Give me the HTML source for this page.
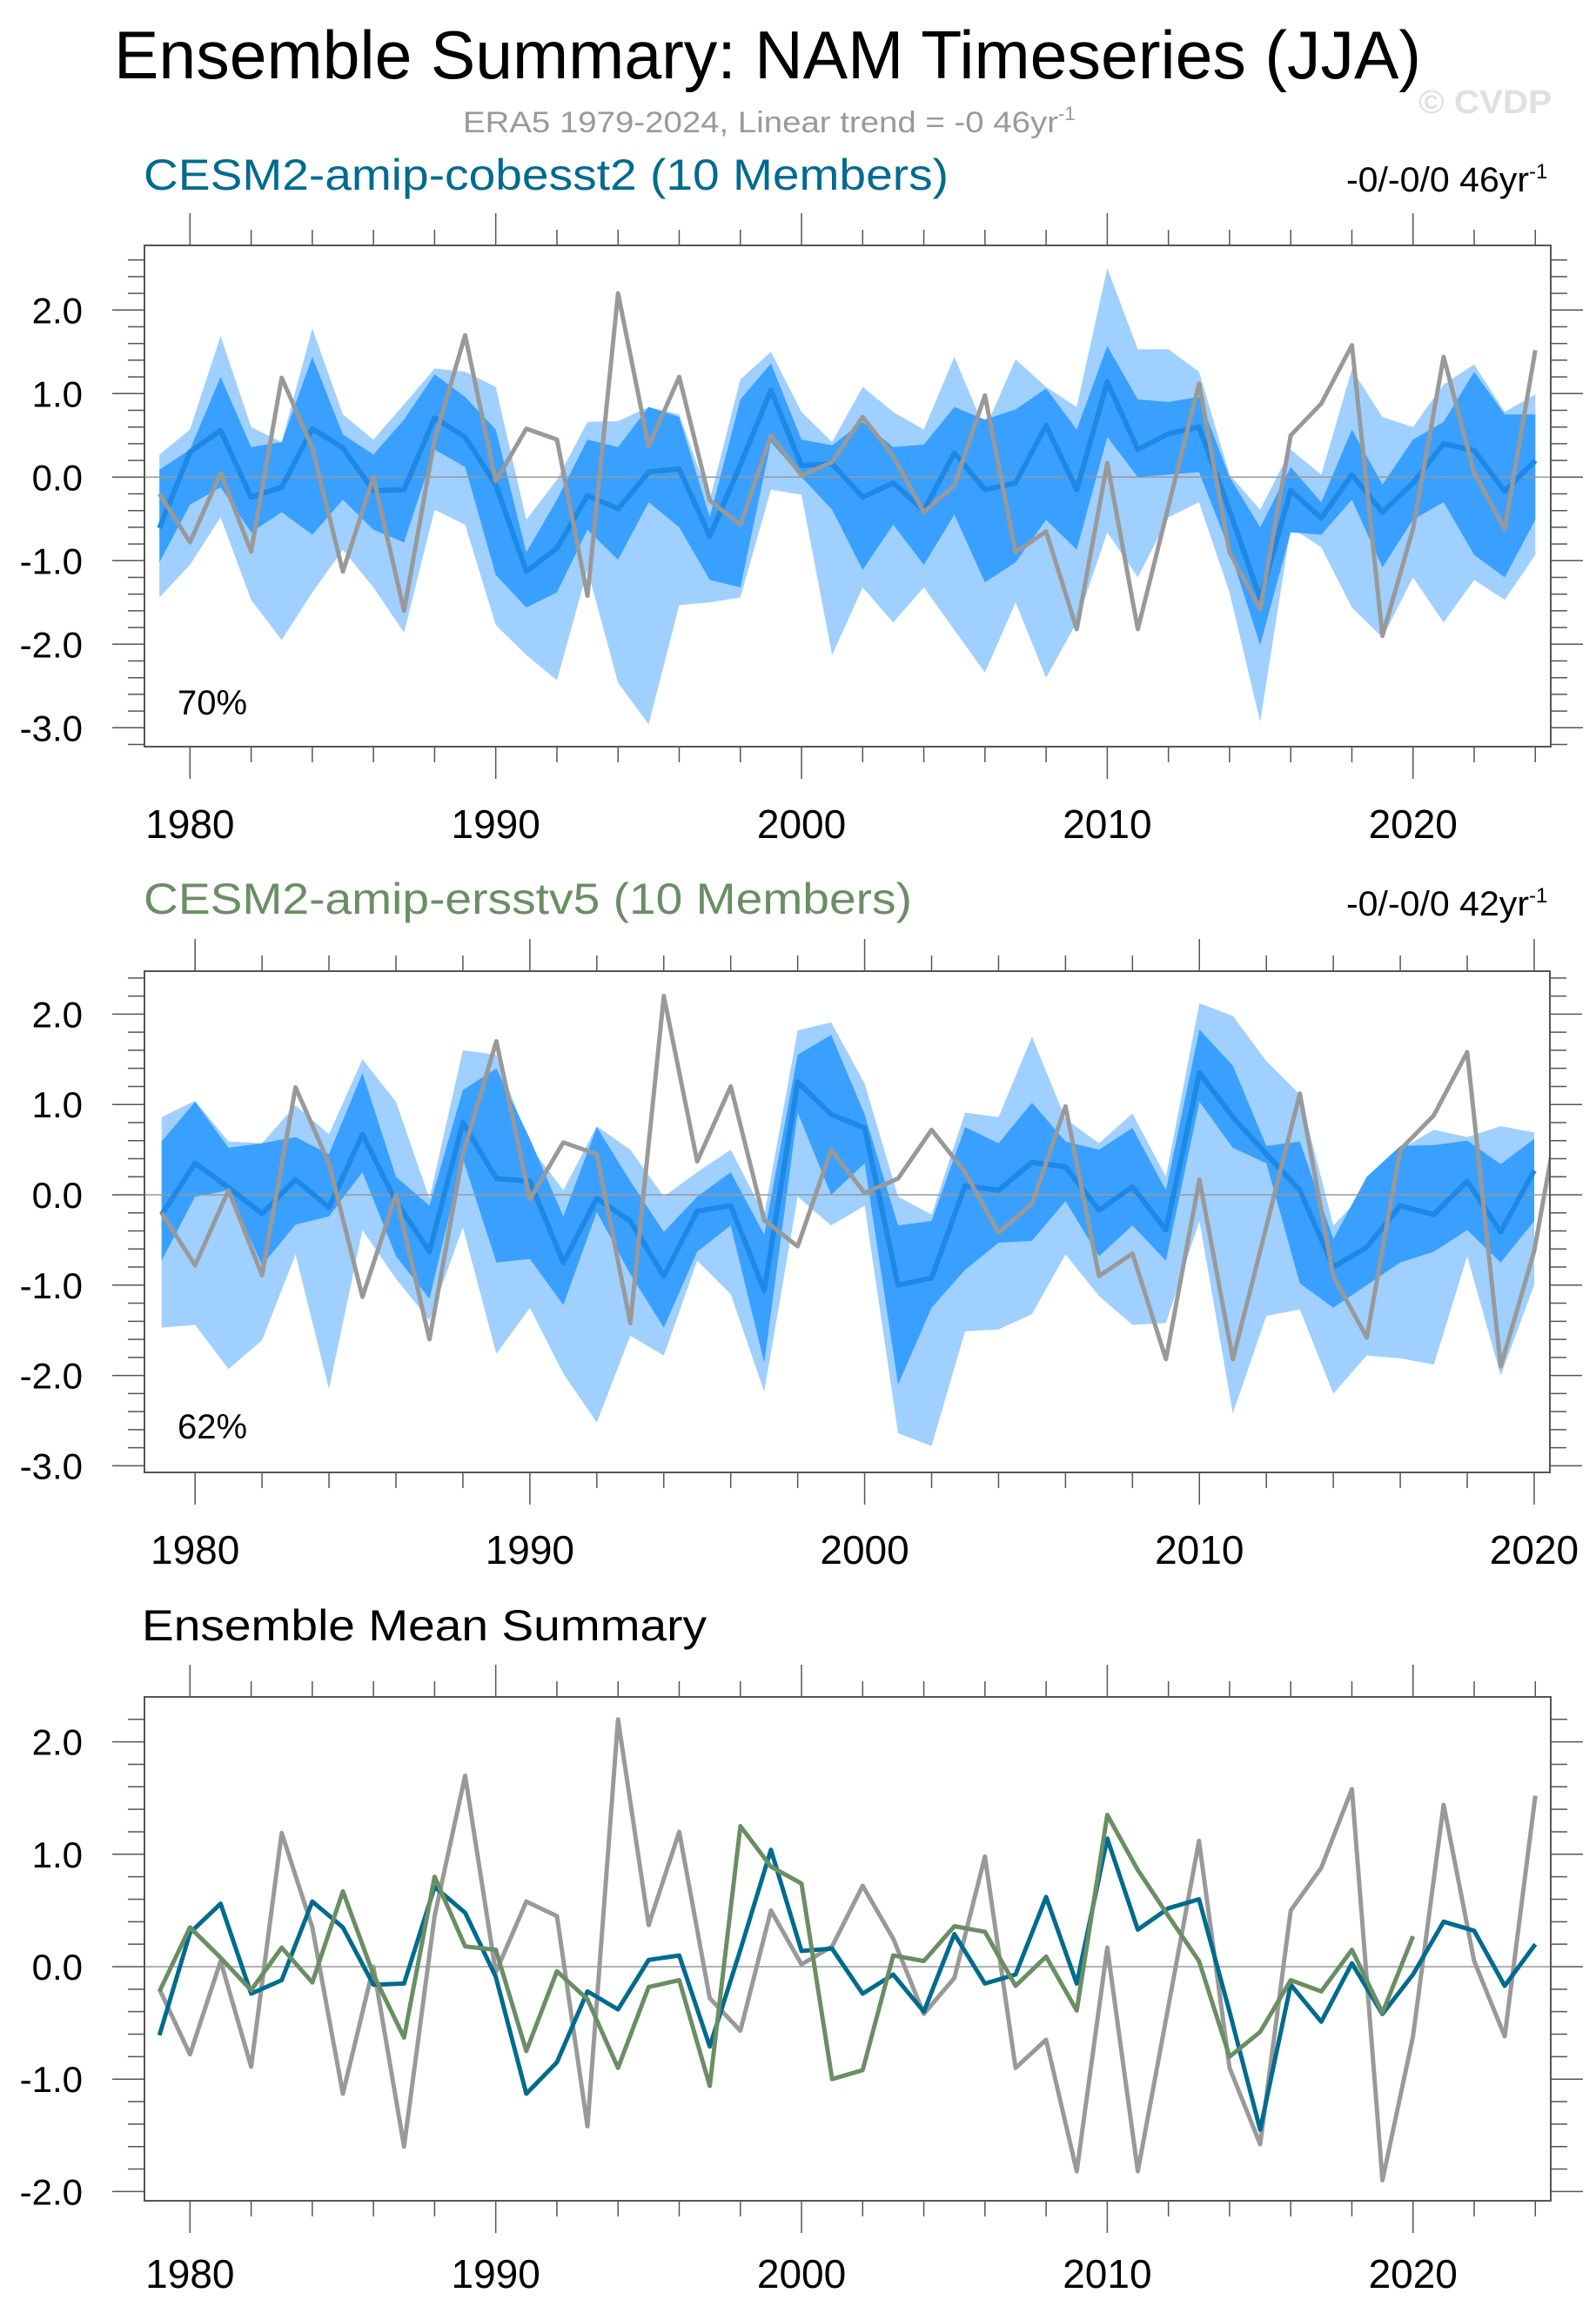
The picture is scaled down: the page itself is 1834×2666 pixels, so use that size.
<!DOCTYPE html>
<html><head><meta charset="utf-8"><style>
html,body{margin:0;padding:0;background:#fff;}
svg{display:block;font-family:"Liberation Sans",sans-serif;}
</style></head><body>
<svg id="chart" xmlns="http://www.w3.org/2000/svg" width="1834" height="2666" viewBox="0 0 1834 2666">
<rect width="1834" height="2666" fill="#fff"/>
<text x="131" y="90" font-size="78" textLength="1502" lengthAdjust="spacingAndGlyphs">Ensemble Summary: NAM Timeseries (JJA)</text>
<text x="1630" y="130" font-size="38" font-weight="bold" fill="#e0e0e0" textLength="153" lengthAdjust="spacingAndGlyphs">© CVDP</text>
<text x="532" y="152" font-size="34" fill="#999"><tspan textLength="684" lengthAdjust="spacingAndGlyphs">ERA5 1979-2024, Linear trend = -0 46yr</tspan><tspan dy="-14" font-size="22">-1</tspan></text>
<text x="165" y="218" font-size="50" fill="#006b8f" textLength="925" lengthAdjust="spacingAndGlyphs">CESM2-amip-cobesst2 (10 Members)</text>
<text x="1547" y="220" font-size="40"><tspan textLength="210" lengthAdjust="spacingAndGlyphs">-0/-0/0 46yr</tspan><tspan dy="-15" font-size="24">-1</tspan></text>
<text x="165" y="1050" font-size="50" fill="#6a8e64" textLength="883" lengthAdjust="spacingAndGlyphs">CESM2-amip-ersstv5 (10 Members)</text>
<text x="1547" y="1052" font-size="40"><tspan textLength="210" lengthAdjust="spacingAndGlyphs">-0/-0/0 42yr</tspan><tspan dy="-15" font-size="24">-1</tspan></text>
<text x="163" y="1885" font-size="50" textLength="649" lengthAdjust="spacingAndGlyphs">Ensemble Mean Summary</text>
<text x="204" y="821" font-size="40">70%</text>
<text x="204" y="1653" font-size="40">62%</text>
<g id="layers"></g>
</svg>
<script>
const years1 = [];
for (let y = 1979; y <= 2024; y++) years1.push(y);
const years2 = [];
for (let y = 1979; y <= 2020; y++) years2.push(y);
const era5 = [-0.20,-0.78,0.05,-0.89,1.19,0.35,-1.13,0.0,-1.60,0.45,1.70,-0.05,0.58,0.45,-1.42,2.20,0.37,1.20,-0.28,-0.57,0.50,0.02,0.18,0.72,0.25,-0.42,-0.10,0.98,-0.90,-0.65,-1.82,0.17,-1.82,-0.35,1.12,-0.90,-1.58,0.50,0.88,1.58,-1.90,-0.62,1.44,0.05,-0.62,1.52];
const mean1 = [-0.61,0.30,0.56,-0.24,-0.12,0.58,0.35,-0.16,-0.15,0.71,0.48,-0.09,-1.13,-0.85,-0.22,-0.38,0.06,0.10,-0.71,0.15,1.04,0.14,0.16,-0.24,-0.07,-0.40,0.29,-0.15,-0.07,0.62,-0.15,1.14,0.33,0.52,0.60,-0.40,-1.45,-0.16,-0.49,0.03,-0.42,-0.07,0.40,0.32,-0.17,0.20];
const light1Hi = [0.27,0.57,1.69,0.60,0.42,1.78,0.75,0.45,0.87,1.30,1.26,1.08,-0.51,-0.03,0.66,0.67,0.84,0.75,-0.27,1.17,1.50,0.78,0.42,1.08,0.78,0.57,1.44,0.57,1.41,1.08,0.84,2.50,1.53,1.53,1.26,0.03,-0.39,0.33,0.03,1.29,0.72,0.60,1.11,1.35,0.78,0.99];
const dark1Hi = [0.09,0.33,1.20,0.36,0.42,1.44,0.51,0.27,0.69,1.23,0.96,0.57,-0.90,-0.27,0.45,0.36,0.84,0.72,-0.48,0.93,1.36,0.45,0.38,0.66,0.36,0.39,0.84,0.69,0.81,1.06,0.57,1.57,0.93,0.90,0.96,0.00,-0.60,0.12,-0.30,0.57,-0.09,0.45,0.66,1.26,0.75,0.75];
const dark1Lo = [-1.02,-0.33,-0.12,-0.66,-0.42,-0.69,-0.27,-0.63,-0.78,0.33,0.12,-1.17,-1.56,-1.38,-0.63,-0.99,-0.30,-0.60,-1.23,-1.32,0.42,0.00,-0.39,-1.11,-0.57,-1.05,-0.45,-1.26,-1.02,-0.51,-0.87,0.48,0.00,0.03,0.06,-0.87,-2.01,-0.66,-0.69,-0.27,-1.08,-0.51,-0.30,-0.93,-1.20,-0.51];
const light1Lo = [-1.44,-1.05,-0.48,-1.47,-1.95,-1.38,-0.87,-1.32,-1.86,-0.39,-0.57,-1.77,-2.13,-2.43,-1.11,-2.46,-2.96,-1.53,-1.50,-1.44,-0.15,-0.21,-2.13,-1.32,-1.74,-1.32,-1.83,-2.34,-1.50,-2.40,-1.74,-0.66,-1.20,-0.48,-0.30,-1.38,-2.93,-0.60,-0.84,-1.56,-1.92,-1.20,-1.74,-1.23,-1.47,-0.93];
const mean2 = [-0.22,0.35,0.08,-0.21,0.17,-0.14,0.67,-0.07,-0.63,0.80,0.18,0.15,-0.75,-0.04,-0.29,-0.90,-0.18,-0.12,-1.06,1.25,0.89,0.74,-1.00,-0.92,0.10,0.05,0.36,0.31,-0.17,0.09,-0.39,1.35,0.86,0.45,0.05,-0.80,-0.58,-0.12,-0.22,0.15,-0.41,0.27];
const light2Hi = [0.86,1.04,0.59,0.57,0.99,0.67,1.50,1.03,-0.04,1.60,1.55,0.54,0.05,0.76,0.50,-0.02,0.25,0.50,-0.22,1.82,1.91,1.23,-0.02,-0.22,0.91,0.86,1.75,0.84,0.57,0.90,0.20,2.12,1.98,1.48,1.11,-0.34,0.05,0.50,0.72,0.64,0.76,0.69];
const dark2Hi = [0.59,1.03,0.52,0.57,0.64,0.45,1.35,0.20,-0.12,1.16,1.40,0.62,-0.24,0.75,0.15,-0.41,-0.02,0.25,-0.44,1.55,1.77,0.89,-0.34,-0.29,0.75,0.57,1.02,0.59,0.50,0.74,0.05,1.83,1.43,0.54,0.59,-0.49,0.20,0.54,0.55,0.60,0.34,0.62];
const dark2Lo = [-0.73,-0.02,0.05,-0.78,-0.33,-0.24,0.25,-0.68,-1.15,0.40,-0.75,-0.71,-1.22,-0.19,-0.88,-1.47,-0.63,-0.34,-1.86,0.91,0.00,0.35,-2.10,-1.25,-0.83,-0.53,-0.51,-0.07,-0.68,-0.34,-0.73,1.03,0.52,0.35,-0.98,-1.25,-1.00,-0.75,-0.63,-0.39,-0.75,-0.29];
const light2Lo = [-1.47,-1.44,-1.93,-1.61,-0.66,-2.15,-0.39,-0.93,-1.39,-0.36,-1.76,-1.25,-1.98,-2.52,-1.56,-1.78,-0.73,-1.10,-2.18,-0.02,-0.34,-0.12,-2.64,-2.78,-1.51,-1.49,-1.32,-0.66,-1.12,-1.44,-1.42,-0.29,-2.42,-1.34,-1.27,-2.20,-1.78,-1.81,-1.88,-0.68,-2.00,-1.00];
const yMajor1 = [2.0,1.0,0.0,-1.0,-2.0,-3.0];
const yMajor3 = [2.0,1.0,0.0,-1.0,-2.0];
const xMajor = [1980,1990,2000,2010,2020];

const NS = 'http://www.w3.org/2000/svg';
const root = document.getElementById('layers');
function mk(tag, attrs, parent) {
  const e = document.createElementNS(NS, tag);
  for (const k in attrs) e.setAttribute(k, attrs[k]);
  (parent || root).appendChild(e);
  return e;
}
function panel(cfg) {
  const g = mk('g', {});
  
  
  const X = y => cfg.x0 + (y - 1979) * cfg.py;
  const Y = v => cfg.zero - v * cfg.pu;
  const clipId = cfg.name + '-clip';
  const cp = mk('clipPath', {id: clipId}, g);
  mk('rect', {x: cfg.L, y: cfg.T, width: cfg.R - cfg.L, height: cfg.B - cfg.T}, cp);
  const inner = mk('g', {'clip-path': 'url(#' + clipId + ')'}, g);
  function band(yrs, hi, lo, fill, nm) {
    let d = '';
    yrs.forEach((y, i) => { d += (i ? 'L' : 'M') + X(y).toFixed(1) + ',' + Y(hi[i]).toFixed(1); });
    for (let i = yrs.length - 1; i >= 0; i--) d += 'L' + X(yrs[i]).toFixed(1) + ',' + Y(lo[i]).toFixed(1);
    const p = mk('path', {d: d + 'Z', fill: fill}, inner);
    
    
  }
  function line(yrs, vals, col, w, nm) {
    const pts = yrs.map((y, i) => X(y).toFixed(1) + ',' + Y(vals[i]).toFixed(1)).join(' ');
    const p = mk('polyline', {points: pts, fill: 'none', stroke: col, 'stroke-width': w, 'stroke-linejoin': 'round'}, inner);
    
    
  }
  (cfg.bands || []).forEach(b => band(b[0], b[1], b[2], b[3], b[4]));
  const zl = mk('line', {x1: cfg.L, x2: cfg.R, y1: Y(0), y2: Y(0), stroke: '#999', 'stroke-width': 1.5}, inner);
  
  
  (cfg.lines || []).forEach(l => line(l[0], l[1], l[2], l[3], l[4]));
  const fr = mk('rect', {x: cfg.L, y: cfg.T, width: cfg.R - cfg.L, height: cfg.B - cfg.T, fill: 'none', stroke: '#555', 'stroke-width': 2}, g);
  
  
  for (let y = 1980; y <= cfg.xmax; y += 2) {
    const maj = (y % 10 === 0);
    const len = maj ? 37 : 18;
    const xx = X(y);
    if (xx > cfg.R) continue;
    mk('line', {x1: xx, x2: xx, y1: cfg.T, y2: cfg.T - len, stroke: '#555', 'stroke-width': 1.5}, g);
    mk('line', {x1: xx, x2: xx, y1: cfg.B, y2: cfg.B + len, stroke: '#555', 'stroke-width': 1.5}, g);
  }
  xMajor.forEach(y => {
    const t = mk('text', {x: X(y), y: cfg.labY, 'font-size': 46, 'text-anchor': 'middle'}, g);
    
    
    t.textContent = String(y);
  });
  for (let k = Math.round(cfg.ymin * 5); k <= Math.round(cfg.ymax * 5); k++) {
    const v = k / 5;
    const maj = (k % 5 === 0);
    const len = maj ? 37 : 19;
    const yy = Y(v);
    mk('line', {x1: cfg.L, x2: cfg.L - len, y1: yy, y2: yy, stroke: '#555', 'stroke-width': 1.5}, g);
    mk('line', {x1: cfg.R, x2: cfg.R + len, y1: yy, y2: yy, stroke: '#555', 'stroke-width': 1.5}, g);
  }
  cfg.yMajor.forEach(v => {
    const t = mk('text', {x: 95, y: Y(v) + 15, 'font-size': 42, 'text-anchor': 'end'}, g);
    
    
    t.textContent = v.toFixed(1);
  });
}
const LIGHT = '#9fd0ff', DARK = '#3aa0ff', MLINE = '#1e88e5';
panel({name: 'panel-cobesst2', L: 166, R: 1782, T: 282, B: 858, zero: 548.3, pu: 96, x0: 183.2, py: 35.135, xmax: 2024, ymin: -3.2, ymax: 2.6, labY: 963, yMajor: yMajor1,
  bands: [[years1, light1Hi, light1Lo, LIGHT, 'outer-spread-band'], [years1, dark1Hi, dark1Lo, DARK, 'inner-spread-band']],
  lines: [[years1, mean1, MLINE, 6, 'ensemble-mean-line'], [years1, era5, '#999', 5, 'era5-line']]});
panel({name: 'panel-ersstv5', L: 166, R: 1781, T: 1116, B: 1692, zero: 1373, pu: 103.8, x0: 185.7, py: 38.47, xmax: 2020, ymin: -3.0, ymax: 2.4, labY: 1797, yMajor: yMajor1,
  bands: [[years2, light2Hi, light2Lo, LIGHT, 'outer-spread-band'], [years2, dark2Hi, dark2Lo, DARK, 'inner-spread-band']],
  lines: [[years2, mean2, MLINE, 6, 'ensemble-mean-line'], [years1, era5, '#999', 5, 'era5-line']]});
panel({name: 'panel-mean-summary', L: 166, R: 1782, T: 1950, B: 2529, zero: 2260, pu: 129.2, x0: 183.2, py: 35.135, xmax: 2024, ymin: -2.0, ymax: 2.2, labY: 2629, yMajor: yMajor3,
  lines: [[years1, era5, '#999', 5, 'era5-line'], [years1, mean1, '#006b8f', 5, 'cobesst2-mean-line'], [years2, mean2, '#6a8e64', 5, 'ersstv5-mean-line']]});
</script>
</body></html>
